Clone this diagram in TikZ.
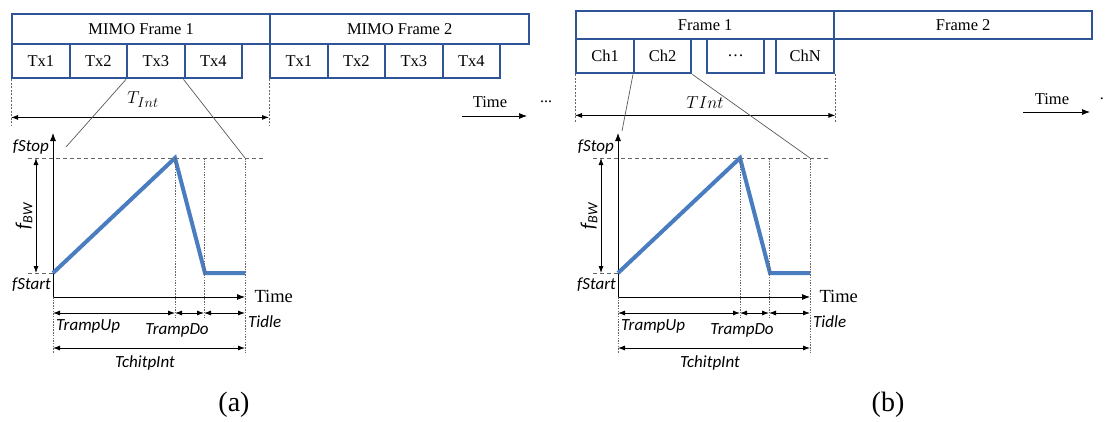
\documentclass[tikz,border=0pt]{standalone}
\usepackage{fontspec}
\setmainfont{Liberation Serif}
\newfontfamily\labfont{Carlito}
\usepackage{xcolor}
\usetikzlibrary{arrows.meta}

\definecolor{boxblue}{HTML}{2F5597}
\definecolor{chirpblue}{HTML}{4A7DC0}

\tikzset{
  frmbox/.style={draw=boxblue, line width=2.4pt, fill=white, anchor=north west,
    inner sep=0pt, font=\fontsize{16.5}{18}\selectfont},
  slotbox/.style={frmbox, minimum width=57.5, minimum height=34},
  lab/.style={font=\labfont\itshape\fontsize{17}{19}\selectfont, inner sep=0pt},
  axis/.style={-{Latex[length=8pt,width=6pt]}, line width=0.8pt},
  dimarr/.style={{Latex[length=7pt,width=5pt]}-{Latex[length=7pt,width=5pt]}, line width=0.8pt},
  guide/.style={gray!80!black, line width=0.6pt, dash pattern=on 4pt off 3pt},
  tick/.style={gray!80!black, line width=0.6pt, dash pattern=on 1.5pt off 1.2pt},
  zoomline/.style={gray!70!black, line width=0.7pt},
  chirp/.style={chirpblue, line width=4pt, line join=miter},
}

\begin{document}
\begin{tikzpicture}[x=1pt, y=-1pt, >=Latex]
  \useasboundingbox (0,0) rectangle (1105,421);

  % MIMO frames, four transmitters each
  \node[frmbox, minimum width=258, minimum height=30] (mf1) at (11,13) {MIMO Frame 1};
  \node[frmbox, minimum width=259, minimum height=30] (mf2) at (269,13) {MIMO Frame 2};
  \foreach \i in {1,...,4} {
    \node[slotbox] (tx1-\i) at ({11+57.5*(\i-1)},43) {Tx\i};
    \node[slotbox] (tx2-\i) at ({269+57.5*(\i-1)},43) {Tx\i};
  }

  % Frame interval
  \draw[guide, dash pattern=on 2pt off 1.5pt] (tx1-1.south west) -- ++(0,46);
  \draw[guide, dash pattern=on 2pt off 1.5pt] (tx2-1.south west) -- ++(0,46);
  \draw[dimarr] ([yshift=-38pt]tx1-1.south west) -- ([yshift=-38pt]tx2-1.south west);
  \node (tint) at (143,100) {\fontsize{19}{21}\selectfont$T_{Int}$};

  \draw[axis, line width=0.7pt] (462,116) -- (527,116);
  \node[font=\fontsize{16.5}{18}\selectfont] (timea) at (490,102) {Time};
  \node[font=\fontsize{16}{18}\selectfont] (dotsa) at (546,102) {...};

  % Plain frames, N channels
  \node[frmbox, minimum width=258, minimum height=28] (fr1) at (575,10) {Frame 1};
  \node[frmbox, minimum width=258, minimum height=28] (fr2) at (833,10) {Frame 2};
  \node[slotbox, minimum width=58] (ch1) at (575,38) {Ch1};
  \node[slotbox, minimum width=57] (ch2) at (633,38) {Ch2};
  \node[slotbox, minimum width=57] (chd) at (706,38) {\dots};
  \node[slotbox, minimum width=58] (chn) at (775,38) {ChN};

  \draw[guide, dash pattern=on 2pt off 1.5pt] (ch1.south west) -- ++(0,48);
  \draw[guide, dash pattern=on 2pt off 1.5pt] (chn.south east) -- ++(0,48);
  \draw[dimarr] ([yshift=-41pt]ch1.south west) -- ([yshift=-41pt]chn.south east);
  \node (tintb) at (705,103) {\fontsize{17}{19}\selectfont$TInt$};

  \draw[axis, line width=0.7pt] (1023,112) -- (1090,112);
  \node[font=\fontsize{16.5}{18}\selectfont] (timeb) at (1052,99) {Time};
  \node[font=\fontsize{16}{18}\selectfont, anchor=east, inner sep=0pt] (dotsb) at (1104,99) {.};

  % One chirp under each frame
  \foreach \p/\dx in {a/0, b/565} {
    \begin{scope}[xshift=\dx]
      \coordinate (o-\p) at (53,297);
      \coordinate (start-\p) at (53,273);
      \coordinate (peak-\p) at (175,158);
      \coordinate (low-\p) at (205,273);
      \coordinate (idle-\p) at (245,273);
      \coordinate (stop-\p) at (245,158);

      % Axes
      \draw[axis] (o-\p) -- (53,133);
      \draw[axis] (o-\p) -- (245,297);
      \node[anchor=west, font=\fontsize{18.5}{20}\selectfont] (time-\p) at (251,296) {Time};

      % Start and stop levels
      \draw[guide] (28,158) -- (265,158);
      \draw[guide] (28,273) -- (start-\p);
      \node[lab, anchor=east] (fstop-\p) at (49,147) {fStop};
      \node[lab, anchor=east] (fstart-\p) at (51,285) {fStart};
      \draw[dimarr] (36,158) -- (36,273);
      \node[lab, rotate=90, font=\labfont\itshape\fontsize{20}{22}\selectfont] (fbw-\p) at (24,216) {f\textsubscript{BW}};

      % Ramp up, ramp down, idle
      \draw[chirp] (start-\p) -- (peak-\p) -- (low-\p) -- (idle-\p);

      % Time markers
      \draw[tick] (peak-\p) -- (175,318);
      \draw[tick] (204,158) -- (204,318);
      \draw[tick] (stop-\p) -- (245,353);
      \draw[tick] (o-\p) -- (53,353);

      \draw[dimarr] (53,313) -- (175,313);
      \draw[dimarr] (175,313) -- (204,313);
      \draw[dimarr] (204,313) -- (245,313);
      \node[lab, anchor=north west] (up-\p) at (56,319) {TrampUp};
      \node[lab, anchor=north] (down-\p) at (177,323) {TrampDo};
      \node[lab, anchor=north west] (idl-\p) at (248,315) {Tidle};

      \draw[dimarr] (53,348) -- (245,348);
      \node[lab, anchor=north] (chirpint-\p) at (145,355) {TchitpInt};
    \end{scope}
  }

  % Zoom from the slot down to its chirp
  \coordinate (za) at (66,147);
  \coordinate (zb) at (622,131);
  \draw[zoomline] (tx1-3.south west) -- (za);
  \draw[zoomline] (tx1-4.south west) -- (stop-a);
  \draw[zoomline] (ch2.south west) -- (zb);
  \draw[zoomline] (ch2.south east) -- (stop-b);

  % Captions
  \node[font=\fontsize{28}{30}\selectfont] (capa) at (234,405) {(a)};
  \node[font=\fontsize{28}{30}\selectfont] (capb) at (888,405) {(b)};
\end{tikzpicture}
\end{document}
